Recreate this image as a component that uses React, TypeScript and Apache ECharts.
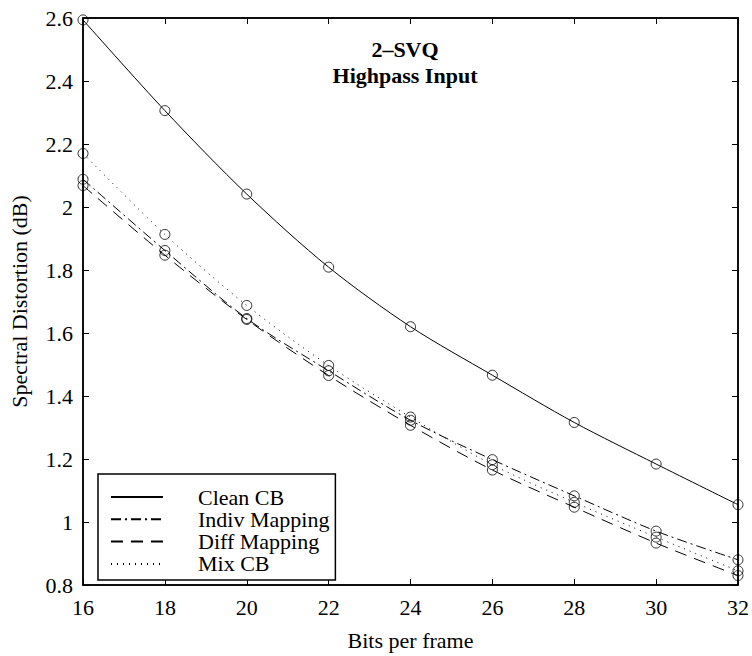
import React, { useEffect, useRef } from "react";
import * as echarts from "echarts";

const bits = [16, 18, 20, 22, 24, 26, 28, 30, 32];
const cleanCB = [2.594, 2.306, 2.041, 1.809, 1.62, 1.466, 1.316, 1.184, 1.055];
const indivMapping = [2.088, 1.862, 1.646, 1.48, 1.323, 1.198, 1.083, 0.971, 0.88];
const diffMapping = [2.068, 1.847, 1.643, 1.465, 1.307, 1.165, 1.047, 0.933, 0.83];
const mixCB = [2.17, 1.913, 1.6875, 1.497, 1.333, 1.182, 1.0625, 0.952, 0.845];

const seriesNames = ["Clean CB", "Indiv Mapping", "Diff Mapping", "Mix CB"];
const seriesValues = [cleanCB, indivMapping, diffMapping, mixCB];
const dashTypes: any[] = ["solid", [10, 4, 2, 4], [12, 8], [1, 5]];

const FONT = "'Liberation Serif', serif";
const FS = 22;

export default function App() {
  const ref = useRef<HTMLDivElement>(null);
  useEffect(() => {
    if (!ref.current) return;
    const chart = echarts.init(ref.current, null, { renderer: "svg" });
    const pairs = (vals: number[]) => bits.map((b, i) => [b, vals[i]]);
    const lineSeries = seriesNames.map((name, k) => ({
      name,
      type: "line",
      data: pairs(seriesValues[k]),
      smooth: 0.3,
      symbol: "none",
      lineStyle: { color: "#000", width: 1, type: dashTypes[k] },
      itemStyle: { color: "#000" },
      z: 3,
    }));
    const markerSeries = seriesNames.map((name, k) => ({
      name: name + " pts",
      type: "scatter",
      data: pairs(seriesValues[k]),
      symbol: "circle",
      symbolSize: 10,
      itemStyle: { color: "transparent", borderColor: "#000", borderWidth: 1 },
      z: 4,
    }));
    const tickCommon = {
      inside: true,
      length: 6,
      lineStyle: { color: "#000", width: 1 },
    };
    const labelStyle = { fontFamily: FONT, fontSize: FS, color: "#000" };
    chart.setOption({
      animation: false,
      backgroundColor: "#fff",
      textStyle: { fontFamily: FONT, fontSize: FS },
      grid: {
        left: 77,
        right: 11,
        top: 18,
        bottom: 62,
        show: true,
        borderColor: "#000",
        borderWidth: 1.5,
        backgroundColor: "transparent",
      },
      title: {
        text: "2–SVQ\nHighpass Input",
        left: 400,
        top: 31,
        textAlign: "center",
        textStyle: {
          fontFamily: FONT,
          fontWeight: "bold",
          fontSize: FS,
          lineHeight: 26,
          color: "#000",
        },
      },
      legend: {
        data: seriesNames,
        orient: "vertical",
        left: 98,
        top: 474,
        backgroundColor: "#fff",
        borderColor: "#000",
        borderWidth: 1.5,
        borderRadius: 0,
        padding: [12, 6, 5, 12],
        itemGap: 0.3,
        itemWidth: 52,
        itemHeight: 14,
        itemStyle: { opacity: 0 },
        textStyle: {
          fontFamily: FONT,
          fontSize: FS,
          lineHeight: 20,
          color: "#000",
          padding: [0, 0, 0, 30],
        },
      },
      xAxis: [
        {
          type: "value",
          min: 16,
          max: 32,
          interval: 2,
          name: "Bits per frame",
          nameLocation: "middle",
          nameGap: 44,
          nameTextStyle: labelStyle,
          axisLine: { show: true, onZero: false, lineStyle: { color: "#000", width: 1.5 } },
          axisTick: tickCommon,
          axisLabel: { ...labelStyle, margin: 11 },
          splitLine: { show: false },
        },
        {
          type: "value",
          position: "top",
          min: 16,
          max: 32,
          interval: 2,
          axisLine: { show: true, onZero: false, lineStyle: { color: "#000", width: 1.5 } },
          axisTick: tickCommon,
          axisLabel: { show: false },
          splitLine: { show: false },
        },
      ],
      yAxis: [
        {
          type: "value",
          min: 0.8,
          max: 2.6,
          interval: 0.2,
          name: "Spectral Distortion (dB)",
          nameLocation: "middle",
          nameGap: 53,
          nameTextStyle: labelStyle,
          axisLine: { show: true, onZero: false, lineStyle: { color: "#000", width: 1.5 } },
          axisTick: tickCommon,
          axisLabel: { ...labelStyle, margin: 10 },
          splitLine: { show: false },
        },
        {
          type: "value",
          position: "right",
          min: 0.8,
          max: 2.6,
          interval: 0.2,
          axisLine: { show: true, onZero: false, lineStyle: { color: "#000", width: 1.5 } },
          axisTick: tickCommon,
          axisLabel: { show: false },
          splitLine: { show: false },
        },
      ],
      series: [...lineSeries, ...markerSeries],
    });
    return () => chart.dispose();
  }, []);
  return <div ref={ref} style={{ width: 752, height: 656, position: "absolute", left: 0, top: 0 }} />;
}
